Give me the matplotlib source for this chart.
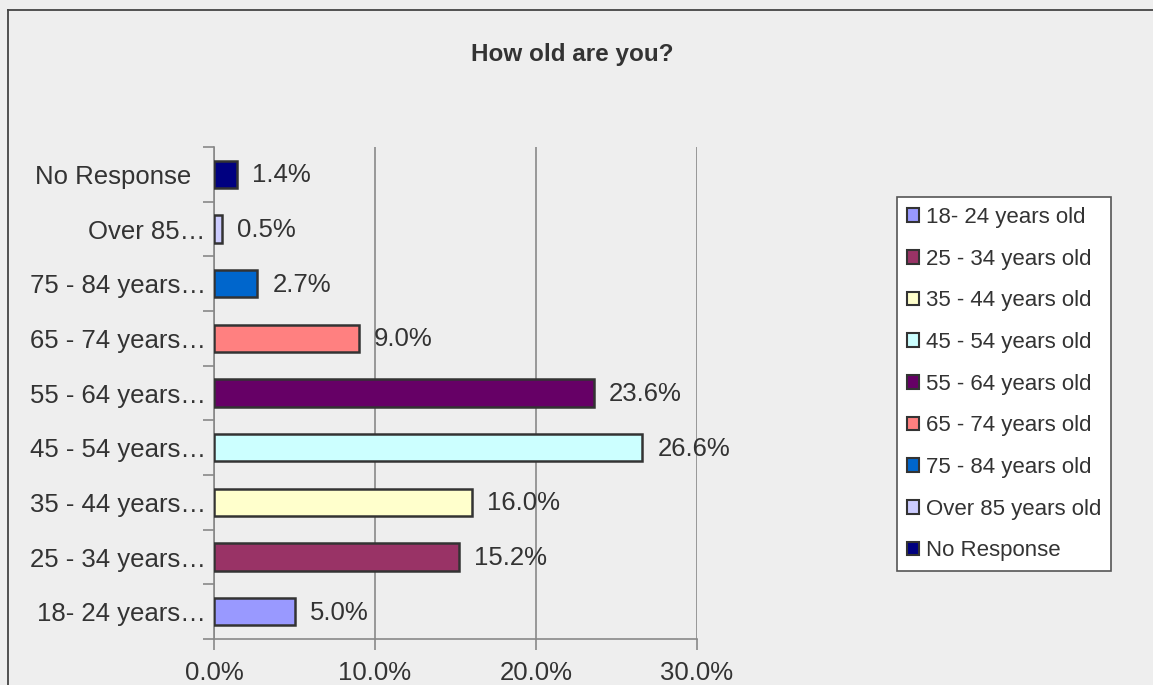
import matplotlib
matplotlib.use("Agg")
import matplotlib.pyplot as plt
from matplotlib.patches import Patch
from matplotlib.lines import Line2D
import numpy as np

plt.rcParams['font.family'] = ['Liberation Sans', 'DejaVu Sans']

categories = ["18- 24 years old", "25 - 34 years old", "35 - 44 years old",
              "45 - 54 years old", "55 - 64 years old", "65 - 74 years old",
              "75 - 84 years old", "Over 85 years old", "No Response"]
tick_labels = ["18- 24 years…", "25 - 34 years…", "35 - 44 years…",
               "45 - 54 years…", "55 - 64 years…", "65 - 74 years…",
               "75 - 84 years…", "Over 85…", "No Response  "]
values = [5.0, 15.2, 16.0, 26.6, 23.6, 9.0, 2.7, 0.5, 1.4]
colors = ["#9999FF", "#993366", "#FFFFCC", "#CCFFFF", "#660066",
          "#FF8080", "#0066CC", "#CCCCFF", "#000080"]
x_ticks = [0.0, 10.0, 20.0, 30.0]

W, H = 1153, 685
bg = "#EEEEEE"
txt = "#333333"
fig = plt.figure(figsize=(W / 100, H / 100), dpi=100, facecolor=bg)
ax = fig.add_axes([214 / W, 1 - 639 / H, (697 - 214) / W, (639 - 147) / H])
ax.set_facecolor(bg)

y = np.arange(len(categories))
ax.barh(y, values, height=0.5, color=colors, edgecolor="#333333",
        linewidth=1.8, zorder=3)
for yi, v in zip(y, values):
    ax.annotate(f"{v:.1f}%", (v, yi), xytext=(11, 1), textcoords="offset points",
                ha="left", va="center_baseline", fontsize=18.5, color=txt, zorder=4)

ax.set_xlim(0, 30)
ax.set_ylim(-0.5, len(categories) - 0.5)
ax.set_xticks(x_ticks)
ax.set_xticklabels([f"{t:.1f}%" for t in x_ticks], fontsize=18.5, color=txt)
ax.set_yticks(y)
ax.set_yticklabels(tick_labels, fontsize=18.5, color=txt)
ax.set_yticks(np.arange(-0.5, len(categories), 1.0), minor=True)
ax.tick_params(axis="y", which="major", length=0, pad=6)
ax.tick_params(axis="y", which="minor", length=8, width=1.2, color="#888888")
ax.tick_params(axis="x", which="major", length=8, width=1.2, color="#888888", pad=8)
ax.grid(axis="x", color="#888888", linewidth=1.2, zorder=0)
for s in ["top", "right"]:
    ax.spines[s].set_visible(False)
for s in ["left", "bottom"]:
    ax.spines[s].set_color("#888888")
    ax.spines[s].set_linewidth(1.2)

fig.text(572 / W, 1 - 54 / H, "How old are you?", ha="center", va="center",
         fontsize=17.5, fontweight="bold", color=txt)

handles = [Patch(facecolor=c, edgecolor="#333333", linewidth=1.5) for c in colors]
leg = fig.legend(handles, categories, loc="upper left",
                 bbox_to_anchor=(897 / W, 1 - 197 / H), fontsize=16,
                 frameon=True, fancybox=False, edgecolor="#555555",
                 facecolor="white", framealpha=1, handlelength=0.55,
                 handleheight=0.55, handletextpad=0.3, labelspacing=0.93,
                 borderpad=0.45, borderaxespad=0)
for t in leg.get_texts():
    t.set_color(txt)
leg.get_frame().set_linewidth(1.2)

fig.add_artist(Line2D([8 / W, 8 / W], [0, 1 - 10 / H], transform=fig.transFigure,
                      color="#444444", linewidth=1.3))
fig.add_artist(Line2D([8 / W, 1], [1 - 10 / H, 1 - 10 / H], transform=fig.transFigure,
                      color="#444444", linewidth=1.3))

fig.savefig("out.png", dpi=100, facecolor=bg)
